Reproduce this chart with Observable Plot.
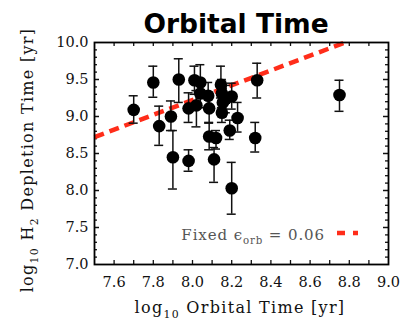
<!DOCTYPE html>
<html><head><meta charset="utf-8">
<script src="https://cdn.jsdelivr.net/npm/d3@7"></script>
<script src="https://cdn.jsdelivr.net/npm/@observablehq/plot@0.6"></script>
<style>body{margin:0;background:#fff}</style>
</head><body><div id="chart"></div>
<script>
const orbitalTime   = [7.70, 7.80, 7.83, 7.89, 7.90, 7.93, 7.98, 7.98, 8.01, 8.04, 8.04, 8.02, 8.08, 8.085, 8.085, 8.12, 8.11, 8.145, 8.15, 8.155, 8.15, 8.19, 8.20, 8.17, 8.23, 8.20, 8.33, 8.32, 8.75];
const depletionTime = [9.09, 9.46, 8.87, 9.00, 8.45, 9.50, 8.40, 9.11, 9.49, 9.46, 9.31, 9.15, 9.28, 9.11, 8.73, 8.71, 8.42, 9.43, 9.31, 9.19, 9.05, 8.81, 9.27, 9.24, 8.98, 8.03, 9.49, 8.71, 9.29];
const errLow        = [8.91, 9.26, 8.61, 8.81, 8.02, 9.19, 8.26, 8.92, 9.30, 9.25, 9.12, 8.86, 9.10, 8.91, 8.55, 8.56, 8.11, 9.25, 9.12, 9.00, 8.92, 8.69, 9.10, 9.05, 8.79, 7.68, 9.25, 8.52, 9.07];
const errHigh       = [9.28, 9.68, 9.14, 9.21, 8.81, 9.78, 8.55, 9.32, 9.68, 9.70, 9.50, 9.35, 9.46, 9.30, 8.92, 8.81, 8.58, 9.68, 9.50, 9.38, 9.17, 8.95, 9.45, 9.42, 9.19, 8.38, 9.72, 8.92, 9.49];

const modelOrbital   = [7.5, 8.778];
const modelDepletion = [8.722, 10.0];

const xTickLabels = [7.6, 7.8, 8.0, 8.2, 8.4, 8.6, 8.8, 9.0];
const yTickLabels = [7.0, 7.5, 8.0, 8.5, 9.0, 9.5, 10.0];
const xMinorTicks = [7.6, 7.7, 7.8, 7.9, 8.0, 8.1, 8.2, 8.3, 8.4, 8.5, 8.6, 8.7, 8.8, 8.9];
const yMinorTicks = [7.1, 7.2, 7.3, 7.4, 7.6, 7.7, 7.8, 7.9, 8.1, 8.2, 8.3, 8.4, 8.6, 8.7, 8.8, 8.9, 9.1, 9.2, 9.3, 9.4, 9.6, 9.7, 9.8, 9.9];
const yMajorTicks = [7.5, 8.0, 8.5, 9.0, 9.5];

const titleText = [{t: "Orbital Time"}];
const xLabel = [{t: "log"}, {t: "10", sub: true}, {t: " Orbital Time [yr]"}];
const yLabel = [{t: "log"}, {t: "10", sub: true}, {t: " H"}, {t: "2", sub: true}, {t: " Depletion Time [yr]"}];
const legendLabel = [{t: "Fixed ϵ"}, {t: "orb", sub: true}, {t: " = 0.06"}];

const points = orbitalTime.map((x, i) => ({x, y: depletionTime[i], lo: errLow[i], hi: errHigh[i]}));
const model = modelOrbital.map((x, i) => ({x, y: modelDepletion[i]}));
const capHalf = 0.023;
const red = "#ff2d1a";
const serif = "DejaVu Serif";
const fmt = d3.format(".1f");
const W = 400, H = 322, mL = 94, mR = 12, mT = 42, mB = 58;
const pw = W - mL - mR, ph = H - mT - mB;

function richText(parts, o) {
  return () => {
    const t = d3.create("svg:text")
      .attr("transform", `translate(${o.x},${o.y}) rotate(${o.rotate || 0})`)
      .attr("text-anchor", o.anchor || "middle")
      .attr("font-family", o.family || serif)
      .attr("font-size", o.size)
      .attr("font-weight", o.weight || "normal")
      .attr("letter-spacing", o.spacing || 0)
      .attr("fill", o.fill || "#111");
    const shift = o.size * 0.32;
    let lowered = false;
    for (const p of parts) {
      const s = t.append("tspan").text(p.t);
      if (p.sub && !lowered) { s.attr("dy", shift).attr("font-size", o.size * 0.68); lowered = true; }
      else if (!p.sub && lowered) { s.attr("dy", -shift); lowered = false; }
    }
    return t.node();
  };
}

const chart = Plot.plot({
  width: W, height: H,
  marginLeft: mL, marginRight: mR, marginTop: mT, marginBottom: mB,
  x: {domain: [7.5, 9.0], axis: null},
  y: {domain: [7.0, 10.0], axis: null},
  style: {fontFamily: serif, background: "white", color: "#111"},
  marks: [
    Plot.text(xTickLabels, {x: d => d, text: d => fmt(d), frameAnchor: "bottom", lineAnchor: "middle", dy: 17.5, fontSize: 14.5, fontFamily: serif, fill: "#111"}),
    Plot.text(yTickLabels, {y: d => d, text: d => fmt(d), frameAnchor: "left", textAnchor: "end", lineAnchor: "middle", dx: -6, fontSize: 14.5, fontFamily: serif, fill: "#111"}),
    Plot.ruleX(xMinorTicks, {x: d => d, insetTop: ph - 4, strokeWidth: 1.3}),
    Plot.ruleX(xMinorTicks, {x: d => d, insetBottom: ph - 4, strokeWidth: 1.3}),
    Plot.ruleY(yMinorTicks, {y: d => d, insetRight: pw - 3, strokeWidth: 1.3}),
    Plot.ruleY(yMinorTicks, {y: d => d, insetLeft: pw - 3, strokeWidth: 1.3}),
    Plot.ruleY(yMajorTicks, {y: d => d, insetRight: pw - 5, strokeWidth: 1.5}),
    Plot.ruleY(yMajorTicks, {y: d => d, insetLeft: pw - 5, strokeWidth: 1.5}),
    Plot.line(model, {x: "x", y: "y", stroke: red, strokeWidth: 4.5, strokeDasharray: "10,6", strokeLinecap: "butt"}),
    Plot.ruleX(points, {x: "x", y1: "lo", y2: "hi", strokeWidth: 1.5, stroke: "#111"}),
    Plot.ruleY(points, {y: "lo", x1: d => d.x - capHalf, x2: d => d.x + capHalf, strokeWidth: 1.5, stroke: "#111"}),
    Plot.ruleY(points, {y: "hi", x1: d => d.x - capHalf, x2: d => d.x + capHalf, strokeWidth: 1.5, stroke: "#111"}),
    Plot.dot(points, {x: "x", y: "y", r: 6.3, fill: "black"}),
    Plot.frame({stroke: "black", strokeWidth: 1.8}),
    richText(titleText, {x: 236, y: 33, size: 26.5, family: "DejaVu Sans", weight: "bold", fill: "black"}),
    richText(xLabel, {x: 240, y: 313, size: 16, spacing: 1.3}),
    richText(yLabel, {x: 33, y: 160, size: 16, spacing: 1.3, rotate: -90}),
    richText(legendLabel, {x: 325, y: 239.5, size: 15, spacing: 0.9, anchor: "end", fill: "#555"}),
    () => d3.create("svg:line")
        .attr("x1", W - mR - 51).attr("x2", W - mR - 30)
        .attr("y1", H - mB - 31).attr("y2", H - mB - 31)
        .attr("stroke", red).attr("stroke-width", 4.5).attr("stroke-dasharray", "8,8")
        .node()
  ]
});
document.getElementById("chart").appendChild(chart);
</script>
</body></html>
